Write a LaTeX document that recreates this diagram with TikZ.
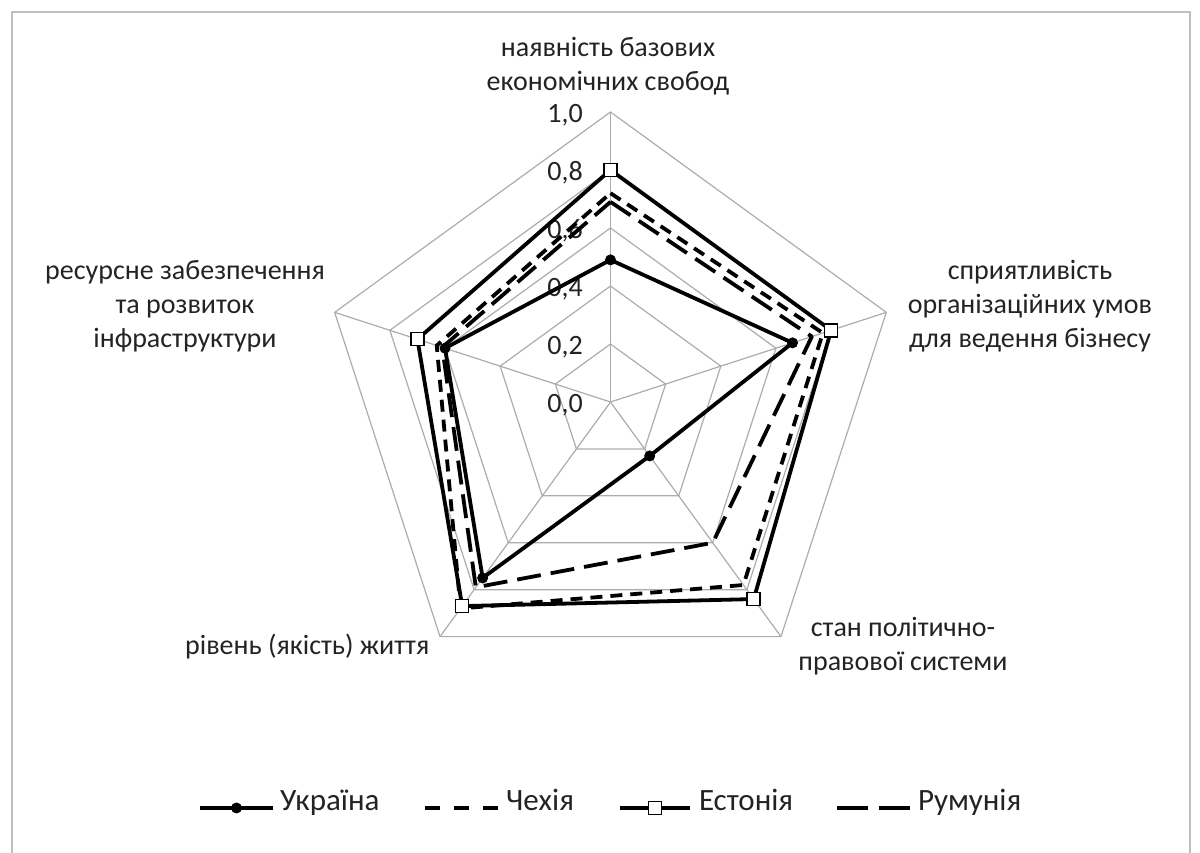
\documentclass[tikz,border=0pt]{standalone}
\usepackage{fontspec}
\setmainfont{Carlito}
\usetikzlibrary{positioning}
\definecolor{gridgray}{RGB}{172,172,172}
\definecolor{framegray}{RGB}{191,191,191}
\definecolor{textgray}{RGB}{35,35,35}

\begin{document}
\begin{tikzpicture}[x=1pt,y=1pt]
      \tikzstyle{grid}=[draw=gridgray,line width=1.2pt]
      \tikzstyle{lbl}=[font=\fontsize{28}{34}\selectfont,text=textgray,align=center,inner sep=0pt]
      \tikzstyle{serie}=[line width=3.8pt,line join=round]
      \tikzstyle{ua}=[serie]
      \tikzstyle{cz}=[serie,dash pattern=on 12pt off 8pt]
      \tikzstyle{ee}=[serie]
      \tikzstyle{ro}=[serie,dash pattern=on 24pt off 10pt]
      \tikzstyle{dot}=[circle,fill=black,inner sep=0pt,minimum size=11pt]
      \tikzstyle{box}=[rectangle,draw=black,fill=white,line width=1.4pt,inner sep=0pt,minimum size=13pt]
      \tikzstyle{legtext}=[lbl,font=\fontsize{31}{36}\selectfont,text height=0.7em,text depth=0.2em]
      \useasboundingbox (-610.5,-451) rectangle (589.5,402);
      % frame
      \coordinate (fr1) at (-598.5,-451);
      \coordinate (fr2) at (-598.5,390);
      \coordinate (fr3) at (579.5,390);
      \coordinate (fr4) at (579.5,-451);
      \draw[framegray,line width=1.5pt] (fr1) -- (fr2) -- (fr3) -- (fr4);
      % grid
      \foreach \r in {58,116,...,290}
        \draw[grid] (90:\r) -- (18:\r) -- (-54:\r) -- (-126:\r) -- (162:\r) -- cycle;
      \foreach \a in {90,18,-54,-126,162}
        \draw[grid] (0,0) -- (\a:290);
      \foreach \v in {0,2,4,6,8}
        \node[lbl,anchor=east] (tick\v) at (-27.5,29*\v-3) {0,\v};
      \node[lbl,anchor=east] (tick10) at (-27.5,287) {1,0};
      % data
      \foreach \s/\va/\vb/\vc/\vd/\ve in {ua/0.49/0.66/0.23/0.75/0.60,cz/0.72/0.77/0.78/0.88/0.63,ee/0.80/0.80/0.84/0.87/0.70,ro/0.69/0.73/0.60/0.79/0.61}{
        \coordinate (\s1) at (90:{\va*290});
        \coordinate (\s2) at (18:{\vb*290});
        \coordinate (\s3) at (-54:{\vc*290});
        \coordinate (\s4) at (-126:{\vd*290});
        \coordinate (\s5) at (162:{\ve*290});
      }
      \draw[ua] (ua1) -- (ua2) -- (ua3) -- (ua4) -- (ua5) -- cycle;
      \foreach \i in {1,...,5} \node[dot] (uam\i) at (ua\i) {};
      \draw[cz] (cz1) -- (cz2) -- (cz3) -- (cz4) -- (cz5) -- cycle;
      \draw[ee] (ee1) -- (ee2) -- (ee3) -- (ee4) -- (ee5) -- cycle;
      \foreach \i in {1,...,5} \node[box] (eem\i) at (ee\i) {};
      \draw[ro] (ro1) -- (ro2) -- (ro3) -- (ro4) -- (ro5) -- cycle;
      % axis labels
      \node[lbl] (axA) at (-2.5,336) {наявність базових\\економічних свобод};
      \node[lbl] (axB) at (419.5,96) {сприятливість\\організаційних умов\\для ведення бізнесу};
      \node[lbl] (axC) at (292.5,-244.5) {стан політично-\\правової системи};
      \node[lbl,anchor=east] (axD) at (-181,-244.7) {рівень (якість) життя};
      \node[lbl] (axE) at (-425.5,96) {ресурсне забезпечення\\та розвиток\\інфраструктури};
      % legend
      \coordinate (uaL) at (-410.5,-406); \coordinate (uaR) at (-337.5,-406);
      \draw[ua] (uaL) -- node[dot] (uaM) {} (uaR);
      \node[legtext,right=7pt of uaR] (uaT) {Україна};
      \coordinate (czL) at (-185.5,-406); \coordinate (czR) at (-112.5,-406);
      \draw[cz,dash pattern=on 15pt off 14pt] (czL) -- (czR);
      \node[legtext,right=8pt of czR] (czT) {Чехія};
      \coordinate (eeL) at (9.5,-406); \coordinate (eeR) at (79.5,-406);
      \draw[ee] (eeL) -- node[box] (eeM) {} (eeR);
      \node[legtext,right=9pt of eeR] (eeT) {Естонія};
      \coordinate (roL) at (226.5,-406); \coordinate (roR) at (299.5,-406);
      \draw[ro,dash pattern=on 31pt off 11pt] (roL) -- (roR);
      \node[legtext,right=8pt of roR] (roT) {Румунія};
\end{tikzpicture}
\end{document}
